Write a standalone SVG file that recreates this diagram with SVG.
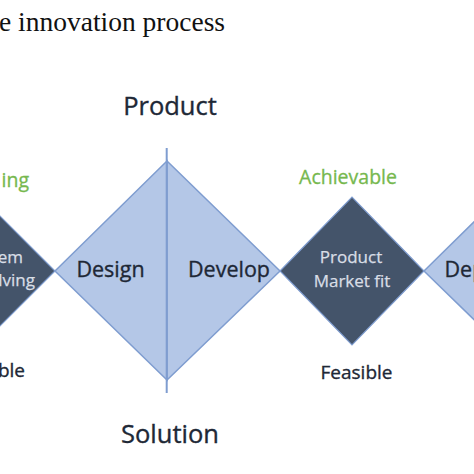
<svg xmlns="http://www.w3.org/2000/svg" width="474" height="474" viewBox="0 0 474 474">
  <style>
    .light { fill: #b4c7e7; stroke: #7f9dd0; stroke-width: 1.5; stroke-linejoin: miter; }
    .dark { fill: #44546a; stroke: #7f9dd0; stroke-width: 1.2; }
    .lbl { font-family: "Open Sans", "Noto Sans", sans-serif; fill: #1e2836; stroke: #1e2836; stroke-width: 0.35; }
    .inv { font-family: "Open Sans", "Noto Sans", sans-serif; fill: #d9dee6; stroke: #d9dee6; stroke-width: 0.25; font-size: 17px; }
    .green { font-family: "Open Sans", "Noto Sans", sans-serif; fill: #76b84e; stroke: #76b84e; stroke-width: 0.3; }
    .axis { stroke: #7f9dd0; stroke-width: 2; fill: none; }
  </style>
  <rect width="474" height="474" fill="#ffffff"/>
  <text x="-1" y="31" font-family="Liberation Serif, serif" font-size="27.5" fill="#111">e innovation process</text>

  <g id="problem-solving">
    <polygon class="dark" points="-89,271 -17,199 55,271 -17,343"/>
    <text class="inv" x="23" y="263" text-anchor="end">em</text>
    <text class="inv" x="35" y="286" text-anchor="end">lving</text>
  </g>
  <g id="design">
    <polygon class="light" points="55,271 167,161 167,380"/>
    <text class="lbl" x="110.5" y="277" font-size="21.5" text-anchor="middle">Design</text>
  </g>
  <g id="develop">
    <polygon class="light" points="167,161 280,271 167,380"/>
    <text class="lbl" x="229" y="277" font-size="21.5" text-anchor="middle">Develop</text>
  </g>
  <g id="product-market-fit">
    <polygon class="dark" points="280,271 352,197 424,271 352,345"/>
    <text class="inv" x="351" y="263" text-anchor="middle">Product</text>
    <text class="inv" x="352" y="287" text-anchor="middle">Market fit</text>
  </g>
  <g id="deploy">
    <polygon class="light" points="424,271 536,161 648,271 536,380"/>
    <text class="lbl" x="444.5" y="277" font-size="21.5">Dep</text>
  </g>

  <g id="connectors">
    <line class="axis" x1="166.7" y1="148" x2="166.7" y2="393"/>
  </g>

  <g id="labels">
    <text class="lbl" x="170" y="115" font-size="25.5" text-anchor="middle">Product</text>
    <text class="lbl" x="170" y="443" font-size="25.5" text-anchor="middle">Solution</text>
    <text class="green" x="348" y="184" font-size="19.5" text-anchor="middle">Achievable</text>
    <text class="lbl" x="356.5" y="379" font-size="19" text-anchor="middle">Feasible</text>
    <text class="green" x="29" y="187" font-size="19.5" text-anchor="end">ing</text>
    <text class="lbl" x="25" y="377" font-size="19" text-anchor="end">ble</text>
  </g>
</svg>
